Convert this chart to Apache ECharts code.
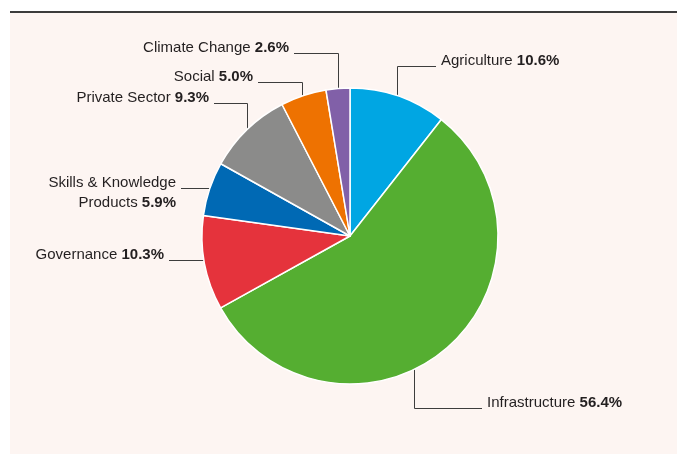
<!DOCTYPE html>
<html>
<head>
<meta charset="utf-8">
<script src="https://cdn.jsdelivr.net/npm/echarts@6/dist/echarts.min.js"></script>
<style>
  html, body { margin: 0; padding: 0; background: #ffffff; }
  #panel { position: absolute; left: 10px; top: 11px; width: 667px; height: 443px;
           background: #fdf5f2; border-top: 2px solid #3c3c3c; box-sizing: border-box; }
  #chart { position: absolute; left: 0; top: 0; width: 677px; height: 454px; }
</style>
</head>
<body>
<div id="panel"></div>
<div id="chart"></div>
<script>
// ---- data ----
const categories = ['Agriculture', 'Infrastructure', 'Governance', 'Skills & Knowledge\nProducts', 'Private Sector', 'Social', 'Climate Change'];
const values = [10.6, 56.4, 10.3, 5.9, 9.3, 5.0, 2.6];
const valueLabels = ['10.6%', '56.4%', '10.3%', '5.9%', '9.3%', '5.0%', '2.6%'];
const colors = ['#00a6e3', '#55ae31', '#e5333c', '#0069b4', '#8b8b8a', '#ee7201', '#8160a8'];

// ---- label placement (layout, not data) ----
// kind 'v': vertical leader at x then horizontal at y; kind 'h': horizontal leader at y
const labelPlace = [
  { kind: 'v', x: 397, y: 66, side: 'right', textX: 441 },
  { kind: 'v', x: 414, y: 408, side: 'right', textX: 487 },
  { kind: 'h', y: 260, side: 'left', textX: 164 },
  { kind: 'h', y: 188, side: 'left', textX: 176, lines: 2 },
  { kind: 'v', x: 247, y: 103, side: 'left', textX: 209 },
  { kind: 'v', x: 302, y: 82, side: 'left', textX: 253 },
  { kind: 'v', x: 338, y: 53, side: 'left', textX: 289 }
];

const CX = 350, CY = 236, R = 148;
const FONT = "'Liberation Sans', Arial, sans-serif";

const chart = echarts.init(document.getElementById('chart'), null, { renderer: 'canvas' });

const seriesData = categories.map((c, i) => ({
  name: c, value: values[i], itemStyle: { color: colors[i] }
}));

chart.setOption({
  backgroundColor: 'transparent',
  animation: false,
  series: [{
    type: 'pie',
    center: [CX, CY],
    radius: R,
    startAngle: 90,
    clockwise: true,
    avoidLabelOverlap: false,
    emphasis: { disabled: true },
    itemStyle: { borderColor: '#ffffff', borderWidth: 1.5 },
    data: seriesData,
    label: {
      show: true,
      position: 'outside',
      formatter: function (p) {
        const parts = categories[p.dataIndex].split('\n');
        const last = parts.pop();
        const head = parts.map(s => '{n|' + s + '}').join('\n');
        return (head ? head + '\n' : '') + '{n|' + last + ' }{b|' + valueLabels[p.dataIndex] + '}';
      },
      rich: {
        n: { fontFamily: FONT, fontSize: 15, color: '#231f20', lineHeight: 20 },
        b: { fontFamily: FONT, fontSize: 15, fontWeight: 'bold', color: '#231f20', lineHeight: 20 }
      }
    },
    labelLine: { show: true, lineStyle: { color: '#3d3d3d', width: 1 } },
    labelLayout: function (params) {
      const L = labelPlace[params.dataIndex];
      let anchor;
      if (L.kind === 'v') {
        const dx = L.x - CX;
        const dy = Math.sqrt(R * R - dx * dx);
        anchor = [L.x + 0.5, L.y < CY ? CY - dy : CY + dy];
      } else {
        const dy = L.y - CY;
        const dx = Math.sqrt(R * R - dy * dy);
        anchor = [L.side === 'left' ? CX - dx : CX + dx, L.y + 0.5];
      }
      const endX = L.side === 'left' ? L.textX + 5 : L.textX - 5;
      const pts = L.kind === 'v'
        ? [anchor, [L.x + 0.5, L.y + 0.5], [endX, L.y + 0.5]]
        : [anchor, [endX, L.y + 0.5]];
      const lines = L.lines || 1;
      return {
        x: L.textX,
        y: L.y - 4.7 + 10 * (lines - 1),
        align: L.side === 'left' ? 'right' : 'left',
        verticalAlign: 'middle',
        labelLinePoints: pts
      };
    }
  }]
});
</script>
</body>
</html>
